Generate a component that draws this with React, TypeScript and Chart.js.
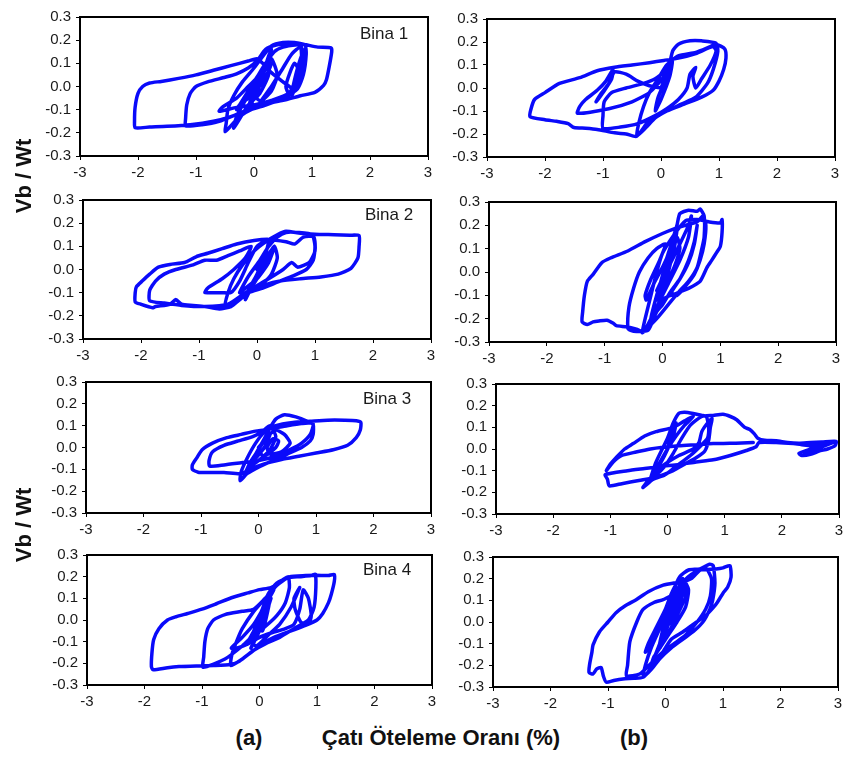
import React, { useEffect, useRef } from "react";
import { Chart, registerables } from "chart.js";

Chart.register(...registerables);

// ---------- data ----------
const xTicks = [-3, -2, -1, 0, 1, 2, 3];
const yTicks = [-0.3, -0.2, -0.1, 0, 0.1, 0.2, 0.3];
const panelLabels = ["Bina 1", "Bina 2", "Bina 3", "Bina 4"];
const yTitle = "Vb / Wt";
const xTitle = "Çatı Öteleme Oranı (%)";
const colLabels = ["(a)", "(b)"];

type P = [number, number];

const bina1A: P[] = [
  [0, 0], [0.15, 0.06], [0.3, 0.1], [0.2, 0.04], [0.0, -0.03], [-0.25, -0.08], [-0.3, -0.1], [-0.15, -0.04],
  [0.05, 0.04], [0.2, 0.1], [0.35, 0.15], [0.5, 0.17], [0.75, 0.18], [0.88, 0.18], [0.9, 0.14], [0.85, 0.05],
  [0.75, -0.01], [0.5, -0.05], [0.2, -0.08], [-0.05, -0.1], [-0.25, -0.13], [-0.4, -0.17], [-0.5, -0.195],
  [-0.48, -0.16], [-0.45, -0.1], [-0.35, -0.04], [-0.2, 0.02], [0.0, 0.08], [0.15, 0.13], [0.3, 0.175],
  [0.5, 0.19], [0.7, 0.19], [0.9, 0.18], [1.1, 0.17], [1.33, 0.167], [1.34, 0.15], [1.3, 0.09], [1.25, 0.03],
  [1.2, 0.005], [1.05, -0.025], [0.8, -0.04], [0.5, -0.06], [0.2, -0.075], [-0.1, -0.1], [-0.4, -0.13],
  [-0.7, -0.15], [-1.1, -0.165], [-1.5, -0.172], [-1.8, -0.175], [-2.05, -0.178], [-2.06, -0.15],
  [-2.05, -0.09], [-2.0, -0.03], [-1.92, 0.0], [-1.8, 0.015], [-1.6, 0.022], [-1.3, 0.035], [-1.0, 0.05],
  [-0.7, 0.07], [-0.4, 0.09], [-0.1, 0.11], [0.05, 0.12], [0.15, 0.1], [0.3, 0.06], [0.5, 0.02],
  [0.65, -0.01], [0.6, -0.04], [0.3, -0.07], [0.0, -0.09], [-0.3, -0.12], [-0.6, -0.15], [-0.9, -0.165],
  [-1.18, -0.17], [-1.18, -0.14], [-1.16, -0.08], [-1.1, -0.03], [-1.0, 0.0], [-0.8, 0.02], [-0.5, 0.04],
  [-0.3, 0.055], [-0.1, 0.08], [0.05, 0.11], [0.2, 0.16], [0.4, 0.18], [0.6, 0.185], [0.8, 0.18],
  [0.85, 0.12], [0.8, 0.05], [0.7, 0.0], [0.6, -0.03], [0.55, 0.0], [0.62, 0.06], [0.7, 0.1], [0.75, 0.08],
  [0.7, 0.02], [0.6, -0.03], [0.3, -0.06], [0.0, -0.08], [-0.3, -0.09], [-0.6, -0.107], [-0.55, -0.09],
  [-0.3, -0.05], [-0.1, 0.0], [0.1, 0.05], [0.2, 0.1], [0.25, 0.05], [0.1, -0.03], [-0.1, -0.08],
  [-0.2, -0.12], [-0.35, -0.18], [-0.3, -0.13], [-0.15, -0.06], [0.05, 0.02], [0.2, 0.08], [0.3, 0.12],
  [0.4, 0.05], [0.3, -0.02], [0.1, -0.07], [0.3, 0.0], [0.5, 0.08], [0.65, 0.14], [0.8, 0.17],
  [0.82, 0.1], [0.75, 0.02], [0.65, -0.04], [0.7, 0.03], [0.8, 0.12], [0.88, 0.16], [0.85, 0.08],
  [0.7, -0.02], [0.5, -0.05], [0.2, -0.07], [0.05, -0.05], [0.15, 0.05], [0.25, 0.13], [0.3, 0.16],
  [0.2, 0.08], [0.05, -0.02], [-0.1, -0.1], [-0.05, -0.05], [0.1, 0.04],
];

const bina1B: P[] = [
  [0, 0], [0.1, 0.06], [0.2, 0.12], [0.15, 0.05], [0.0, -0.05], [-0.1, -0.1], [-0.05, -0.04], [0.1, 0.05],
  [0.2, 0.16], [0.3, 0.19], [0.5, 0.205], [0.7, 0.205], [0.95, 0.195], [0.98, 0.16], [0.9, 0.08],
  [0.8, 0.02], [0.6, -0.04], [0.35, -0.07], [0.1, -0.1], [-0.1, -0.13], [-0.25, -0.17], [-0.42, -0.21],
  [-0.38, -0.15], [-0.3, -0.08], [-0.2, -0.02], [-0.05, 0.04], [0.1, 0.1], [0.3, 0.14], [0.6, 0.155],
  [0.85, 0.18], [0.95, 0.19], [1.1, 0.17], [1.12, 0.13], [1.08, 0.08], [1.0, 0.03], [0.9, -0.01],
  [0.7, -0.04], [0.4, -0.07], [0.1, -0.1], [-0.2, -0.14], [-0.42, -0.21], [-0.6, -0.2], [-0.8, -0.195],
  [-1.1, -0.18], [-1.3, -0.175], [-1.5, -0.172], [-1.6, -0.155], [-1.8, -0.145], [-2.0, -0.138],
  [-2.26, -0.124], [-2.24, -0.09], [-2.18, -0.05], [-2.0, -0.02], [-1.75, 0.02], [-1.4, 0.045],
  [-1.1, 0.075], [-0.8, 0.09], [-0.5, 0.1], [-0.2, 0.11], [0.05, 0.12], [0.3, 0.13], [0.6, 0.15],
  [0.9, 0.18], [0.95, 0.16], [0.85, 0.1], [0.7, 0.04], [0.6, 0.0], [0.55, 0.05], [0.6, 0.09], [0.5, 0.06],
  [0.45, 0.0], [0.3, -0.05], [0.1, -0.09], [-0.1, -0.12], [-0.4, -0.155], [-0.7, -0.17], [-1.0, -0.175],
  [-1.0, -0.12], [-0.98, -0.06], [-0.85, -0.02], [-0.6, 0.0], [-0.3, 0.02], [-0.1, 0.04], [0.1, 0.08],
  [0.15, 0.12], [0.05, 0.05], [-0.2, -0.02], [-0.5, -0.06], [-0.9, -0.09], [-1.44, -0.11], [-1.4, -0.08],
  [-1.3, -0.05], [-1.1, -0.01], [-0.95, 0.03], [-0.83, 0.08], [-0.85, 0.04], [-1.0, -0.02], [-1.12, -0.06],
  [-1.05, -0.03], [-0.9, 0.02], [-0.8, 0.07], [-0.6, 0.06], [-0.4, 0.03], [-0.2, 0.01], [0.0, 0.0],
];

const bina2A: P[] = [
  [0, 0], [0.15, 0.05], [0.3, 0.1], [0.2, 0.03], [0, -0.04], [-0.2, -0.08], [-0.3, -0.1], [-0.15, -0.03],
  [0.05, 0.04], [0.2, 0.1], [0.35, 0.14], [0.5, 0.16], [0.7, 0.16], [0.95, 0.15], [1.0, 0.1], [0.97, 0.04],
  [0.85, 0.0], [0.6, -0.03], [0.3, -0.06], [0.1, -0.08], [-0.15, -0.1], [-0.35, -0.14], [-0.55, -0.16],
  [-0.5, -0.1], [-0.4, -0.04], [-0.25, 0.02], [-0.05, 0.08], [0.15, 0.12], [0.35, 0.15], [0.5, 0.165],
  [0.75, 0.156], [1.0, 0.152], [1.33, 0.15], [1.6, 0.148], [1.76, 0.146], [1.76, 0.1], [1.74, 0.05],
  [1.62, 0.005], [1.4, -0.02], [1.1, -0.032], [0.75, -0.04], [0.4, -0.05], [0.15, -0.065], [-0.1, -0.09],
  [-0.3, -0.13], [-0.45, -0.16], [-0.65, -0.17], [-0.9, -0.16], [-1.1, -0.155], [-1.3, -0.15],
  [-1.4, -0.13], [-1.5, -0.15], [-1.75, -0.16], [-1.8, -0.165], [-2.0, -0.15], [-2.1, -0.14], [-2.1, -0.1],
  [-2.08, -0.075], [-1.98, -0.05], [-1.85, -0.02], [-1.7, 0.01], [-1.5, 0.022], [-1.25, 0.03],
  [-1.05, 0.055], [-0.85, 0.07], [-0.6, 0.09], [-0.35, 0.11], [-0.05, 0.125], [0.2, 0.13], [0.5, 0.12],
  [0.65, 0.11], [0.8, 0.14], [0.98, 0.14], [1.0, 0.08], [0.9, 0.03], [0.7, 0.01], [0.6, 0.03], [0.45, 0.0],
  [0.2, -0.04], [0.0, -0.07], [-0.2, -0.1], [-0.5, -0.15], [-0.9, -0.16], [-1.3, -0.155], [-1.6, -0.145],
  [-1.85, -0.135], [-1.85, -0.09], [-1.75, -0.05], [-1.6, -0.02], [-1.4, 0.0], [-1.1, 0.02], [-0.9, 0.04],
  [-0.7, 0.04], [-0.5, 0.06], [-0.3, 0.08], [-0.1, 0.1], [-0.2, 0.05], [-0.4, 0.0], [-0.6, -0.04],
  [-0.85, -0.08], [-0.9, -0.1], [-0.8, -0.1], [-0.6, -0.1], [-0.45, -0.1], [-0.3, -0.05], [-0.15, 0.03],
  [0.0, 0.1], [0.2, 0.13], [0.15, 0.07], [0.0, -0.02], [-0.15, -0.09], [-0.2, -0.13], [-0.1, -0.08],
  [0.05, -0.02], [0.2, 0.05], [0.3, 0.1], [0.35, 0.05], [0.25, -0.02], [0.1, -0.06], [0.0, -0.07],
];

const bina2B: P[] = [
  [0, 0], [0.1, 0.08], [0.2, 0.15], [0.15, 0.08], [0.0, -0.04], [-0.1, -0.12], [-0.05, -0.06], [0.05, 0.03],
  [0.15, 0.12], [0.25, 0.2], [0.3, 0.25], [0.45, 0.265], [0.6, 0.26], [0.65, 0.27], [0.72, 0.24],
  [0.72, 0.15], [0.68, 0.1], [0.6, 0.02], [0.45, -0.04], [0.3, -0.08], [0.1, -0.14], [-0.1, -0.2],
  [-0.3, -0.25], [-0.35, -0.26], [-0.3, -0.2], [-0.2, -0.1], [-0.1, 0.0], [0.0, 0.08], [0.2, 0.16],
  [0.4, 0.22], [0.6, 0.225], [0.8, 0.215], [1.0, 0.21], [1.03, 0.225], [1.03, 0.17], [1.0, 0.11],
  [0.94, 0.085], [0.85, 0.05], [0.77, 0.02], [0.65, -0.04], [0.45, -0.07], [0.25, -0.09], [0.05, -0.11],
  [-0.1, -0.15], [-0.2, -0.2], [-0.33, -0.255], [-0.45, -0.245], [-0.62, -0.235], [-0.8, -0.23],
  [-0.85, -0.22], [-0.96, -0.207], [-1.1, -0.21], [-1.2, -0.214], [-1.3, -0.225], [-1.39, -0.214],
  [-1.38, -0.17], [-1.35, -0.1], [-1.3, -0.04], [-1.2, -0.01], [-1.05, 0.04], [-0.9, 0.06], [-0.6, 0.09],
  [-0.3, 0.13], [0.0, 0.165], [0.2, 0.185], [0.4, 0.2], [0.6, 0.215], [0.7, 0.24], [0.75, 0.2],
  [0.72, 0.12], [0.65, 0.05], [0.55, -0.01], [0.4, -0.06], [0.25, -0.1], [0.15, -0.09], [0.3, -0.03],
  [0.45, 0.05], [0.55, 0.13], [0.6, 0.2], [0.55, 0.12], [0.45, 0.04], [0.3, -0.03], [0.15, -0.08],
  [0.0, -0.14], [-0.1, -0.17], [-0.25, -0.25], [-0.45, -0.255], [-0.55, -0.25], [-0.6, -0.24],
  [-0.58, -0.15], [-0.5, -0.07], [-0.4, 0.0], [-0.25, 0.06], [-0.1, 0.1], [0.05, 0.12], [-0.05, 0.05],
  [-0.2, -0.03], [-0.3, -0.1], [-0.28, -0.12], [-0.15, -0.05], [0.0, 0.02], [0.15, 0.1], [0.25, 0.15],
  [0.3, 0.1], [0.2, 0.02], [0.05, -0.06], [-0.05, -0.12], [0.05, -0.05], [0.15, 0.05], [0.2, 0.1],
  [0.1, 0.02], [0.3, 0.12], [0.45, 0.2], [0.5, 0.24], [0.45, 0.15], [0.3, 0.05], [0.1, -0.05],
  [-0.1, -0.15], [-0.2, -0.2], [-0.1, -0.1], [0.0, -0.02], [0.1, 0.05], [0.2, 0.12], [0.25, 0.18],
  [0.2, 0.1], [0.05, 0.0], [-0.1, -0.08], [0.0, -0.03], [0.1, 0.04],
];

const bina3A: P[] = [
  [0, 0], [0.1, 0.03], [0.2, 0.06], [0.1, 0.0], [-0.05, -0.05], [-0.15, -0.08], [-0.05, -0.03], [0.1, 0.04],
  [0.2, 0.09], [0.3, 0.13], [0.45, 0.15], [0.65, 0.14], [0.85, 0.12], [0.95, 0.105], [0.95, 0.06],
  [0.9, 0.03], [0.75, 0.0], [0.5, -0.03], [0.25, -0.06], [0.0, -0.09], [-0.2, -0.12], [-0.32, -0.152],
  [-0.3, -0.11], [-0.2, -0.05], [-0.05, 0.02], [0.1, 0.07], [0.3, 0.1], [0.6, 0.115], [0.9, 0.12],
  [1.2, 0.125], [1.5, 0.125], [1.7, 0.123], [1.78, 0.115], [1.77, 0.08], [1.7, 0.045], [1.55, 0.01],
  [1.3, -0.01], [1.0, -0.025], [0.7, -0.04], [0.4, -0.055], [0.1, -0.075], [-0.15, -0.1], [-0.3, -0.12],
  [-0.6, -0.115], [-0.9, -0.115], [-1.05, -0.113], [-1.15, -0.1], [-1.15, -0.08], [-1.08, -0.05],
  [-0.98, -0.01], [-0.8, 0.02], [-0.55, 0.045], [-0.3, 0.06], [-0.05, 0.075], [0.1, 0.08], [0.3, 0.09],
  [0.5, 0.1], [0.75, 0.11], [0.95, 0.11], [0.9, 0.06], [0.75, 0.02], [0.55, -0.01], [0.3, -0.04],
  [0.0, -0.06], [-0.3, -0.07], [-0.6, -0.08], [-0.85, -0.085], [-0.86, -0.06], [-0.8, -0.02], [-0.6, 0.01],
  [-0.35, 0.03], [-0.1, 0.05], [0.05, 0.07], [0.2, 0.1], [0.3, 0.05], [0.2, -0.01], [0.0, -0.06],
  [-0.2, -0.1], [-0.25, -0.13], [-0.15, -0.07], [0.0, -0.01], [0.15, 0.05], [0.3, 0.08], [0.45, 0.06],
  [0.55, 0.02], [0.4, -0.02], [0.2, -0.03], [0.15, 0.0], [0.25, 0.04], [0.35, 0.03], [0.3, 0.0],
  [0.1, -0.04], [0.0, -0.02],
];

const bina3B: P[] = [
  [0, 0], [0.05, 0.06], [0.15, 0.12], [0.1, 0.06], [-0.05, -0.03], [-0.2, -0.1], [-0.3, -0.14], [-0.2, -0.06],
  [0.0, 0.05], [0.1, 0.12], [0.2, 0.165], [0.3, 0.17], [0.45, 0.164], [0.6, 0.155], [0.68, 0.15],
  [0.72, 0.1], [0.7, 0.05], [0.6, 0.02], [0.4, -0.03], [0.15, -0.08], [-0.05, -0.12], [-0.25, -0.14],
  [-0.43, -0.178], [-0.35, -0.15], [-0.2, -0.12], [-0.05, -0.08], [0.1, -0.02], [0.25, 0.05], [0.4, 0.11],
  [0.6, 0.15], [0.8, 0.155], [0.97, 0.16], [1.1, 0.15], [1.21, 0.135], [1.35, 0.1], [1.44, 0.09],
  [1.52, 0.07], [1.58, 0.05], [1.7, 0.04], [1.9, 0.038], [2.1, 0.03], [2.3, 0.027], [2.5, 0.03],
  [2.7, 0.032], [2.95, 0.035], [2.93, 0.015], [2.8, 0.0], [2.65, -0.01], [2.5, -0.025], [2.35, -0.03],
  [2.3, -0.02], [2.45, -0.005], [2.6, 0.01], [2.8, 0.025], [2.9, 0.03], [2.6, 0.0], [2.4, -0.02],
  [2.55, 0.0], [2.75, 0.02], [2.9, 0.032], [2.65, 0.005], [2.45, -0.015], [2.6, 0.01], [2.85, 0.028],
  [2.7, 0.02], [2.5, 0.015], [2.35, 0.02], [2.2, 0.025], [1.9, 0.03], [1.6, 0.03], [1.55, 0.01],
  [1.38, -0.007], [1.1, -0.03], [0.8, -0.05], [0.5, -0.06], [0.2, -0.072], [-0.1, -0.08], [-0.4, -0.09],
  [-0.7, -0.1], [-1.09, -0.118], [-1.05, -0.14], [-1.02, -0.17], [-0.8, -0.16], [-0.5, -0.145],
  [-0.2, -0.13], [0.1, -0.1], [0.3, -0.07], [0.5, -0.04], [0.65, -0.01], [0.72, 0.04], [0.75, 0.1],
  [0.78, 0.14], [0.7, 0.12], [0.6, 0.08], [0.55, 0.03], [0.45, 0.0], [0.2, -0.03], [-0.1, -0.08],
  [-0.25, -0.12], [-0.15, -0.07], [0.0, 0.0], [0.15, 0.06], [0.3, 0.11], [0.45, 0.15], [0.3, 0.13],
  [0.1, 0.1], [-0.2, 0.08], [-0.4, 0.06], [-0.6, 0.025], [-0.75, 0.0], [-0.9, -0.04], [-1.0, -0.07],
  [-1.07, -0.1], [-0.95, -0.06], [-0.8, -0.03], [-0.55, -0.014], [-0.3, 0.0], [-0.08, 0.008], [0.2, 0.015],
  [0.51, 0.02], [0.8, 0.025], [1.09, 0.026], [1.3, 0.028], [1.5, 0.03],
];

const bina4A: P[] = [
  [0, 0], [0.1, 0.06], [0.2, 0.12], [0.1, 0.05], [-0.05, -0.04], [-0.2, -0.1], [-0.1, -0.05], [0.05, 0.05],
  [0.15, 0.12], [0.3, 0.17], [0.5, 0.195], [0.7, 0.2], [0.9, 0.205], [0.97, 0.21], [0.98, 0.15],
  [0.95, 0.06], [0.85, 0.0], [0.6, -0.04], [0.35, -0.08], [0.1, -0.11], [-0.1, -0.14], [-0.3, -0.18],
  [-0.5, -0.21], [-0.48, -0.16], [-0.4, -0.1], [-0.3, -0.04], [-0.1, 0.04], [0.1, 0.1], [0.3, 0.16],
  [0.52, 0.199], [0.8, 0.205], [1.0, 0.206], [1.2, 0.205], [1.3, 0.21], [1.3, 0.176], [1.25, 0.12],
  [1.2, 0.08], [1.1, 0.03], [1.0, 0.0], [0.8, -0.025], [0.55, -0.05], [0.25, -0.08], [0.05, -0.11],
  [-0.15, -0.15], [-0.35, -0.19], [-0.5, -0.205], [-0.8, -0.21], [-1.1, -0.212], [-1.4, -0.215],
  [-1.6, -0.22], [-1.85, -0.23], [-1.88, -0.215], [-1.87, -0.15], [-1.84, -0.09], [-1.75, -0.04],
  [-1.6, 0.0], [-1.45, 0.015], [-1.25, 0.03], [-1.0, 0.05], [-0.75, 0.075], [-0.46, 0.105], [-0.2, 0.125],
  [0.0, 0.14], [0.2, 0.15], [0.4, 0.185], [0.5, 0.2], [0.52, 0.15], [0.45, 0.08], [0.3, 0.02], [0.1, -0.03],
  [-0.1, -0.07], [-0.3, -0.12], [-0.6, -0.18], [-0.98, -0.218], [-0.97, -0.17], [-0.95, -0.1], [-0.9, -0.04],
  [-0.8, 0.0], [-0.6, 0.025], [-0.3, 0.04], [-0.1, 0.05], [0.1, 0.1], [0.25, 0.14], [0.1, 0.07],
  [-0.1, -0.02], [-0.3, -0.08], [-0.49, -0.129], [-0.4, -0.13], [-0.2, -0.11], [0.0, -0.08], [0.2, -0.06],
  [0.45, -0.04], [0.6, -0.02], [0.7, 0.05], [0.76, 0.139], [0.85, 0.1], [0.9, 0.02], [0.85, -0.02],
  [0.72, -0.01], [0.62, 0.05], [0.6, 0.1], [0.7, 0.15], [0.55, 0.06], [0.35, -0.02], [0.15, -0.07],
  [-0.05, -0.12], [-0.15, -0.1], [0.0, -0.03], [0.1, 0.05], [0.15, 0.12], [0.05, 0.05], [-0.05, -0.02],
  [0.05, -0.05], [0.15, 0.05], [0.2, 0.13], [0.15, 0.05], [0.0, -0.05], [-0.15, -0.13], [-0.05, -0.07],
  [0.1, 0.02], [0.2, 0.1], [0.1, 0.03], [0, 0],
];

const bina4B: P[] = [
  [0, 0], [0.1, 0.08], [0.2, 0.15], [0.12, 0.07], [0.0, -0.04], [-0.1, -0.1], [-0.05, -0.04], [0.05, 0.05],
  [0.15, 0.15], [0.25, 0.21], [0.4, 0.24], [0.6, 0.245], [0.77, 0.267], [0.83, 0.26], [0.86, 0.18],
  [0.82, 0.1], [0.77, 0.058], [0.65, 0.0], [0.5, -0.04], [0.3, -0.08], [0.1, -0.12], [-0.1, -0.17],
  [-0.25, -0.22], [-0.39, -0.255], [-0.35, -0.2], [-0.25, -0.12], [-0.1, -0.03], [0.05, 0.06], [0.2, 0.15],
  [0.4, 0.21], [0.6, 0.24], [0.88, 0.245], [1.0, 0.25], [1.12, 0.26], [1.14, 0.207], [1.08, 0.16],
  [1.0, 0.133], [0.9, 0.09], [0.83, 0.066], [0.7, 0.03], [0.54, 0.0], [0.3, -0.046], [0.1, -0.08],
  [-0.04, -0.136], [-0.2, -0.19], [-0.3, -0.23], [-0.39, -0.255], [-0.55, -0.26], [-0.74, -0.263],
  [-0.9, -0.27], [-1.03, -0.278], [-1.08, -0.25], [-1.12, -0.21], [-1.2, -0.218], [-1.26, -0.24],
  [-1.33, -0.233], [-1.32, -0.196], [-1.28, -0.14], [-1.26, -0.106], [-1.15, -0.046], [-1.0, 0.0],
  [-0.86, 0.043], [-0.7, 0.075], [-0.51, 0.103], [-0.3, 0.14], [-0.04, 0.17], [0.15, 0.18], [0.3, 0.185],
  [0.45, 0.2], [0.59, 0.237], [0.7, 0.25], [0.8, 0.2], [0.78, 0.12], [0.7, 0.06], [0.55, 0.0], [0.35, -0.06],
  [0.15, -0.1], [-0.05, -0.14], [-0.25, -0.19], [-0.45, -0.24], [-0.68, -0.248], [-0.66, -0.2],
  [-0.62, -0.091], [-0.5, 0.0], [-0.39, 0.058], [-0.2, 0.09], [-0.04, 0.103], [0.1, 0.12], [0.05, 0.06],
  [-0.1, -0.02], [-0.25, -0.1], [-0.35, -0.14], [-0.3, -0.1], [-0.15, -0.02], [0.0, 0.06], [0.1, 0.13],
  [0.2, 0.18], [0.3, 0.2], [0.4, 0.15], [0.35, 0.07], [0.2, 0.0], [0.05, -0.06], [-0.1, -0.12],
  [0.0, -0.05], [0.1, 0.03], [0.2, 0.1], [0.3, 0.16], [0.25, 0.08], [0.1, 0.0], [0.0, -0.02],
  [0.15, 0.1], [0.3, 0.2], [0.35, 0.12], [0.2, 0.03], [0.0, -0.08], [-0.2, -0.16], [-0.25, -0.2],
  [-0.1, -0.1], [0.05, 0.0], [0.2, 0.08], [0.3, 0.13], [0.15, 0.04], [0, 0],
];

// ---------- layout (style only) ----------
const FONT = "'Liberation Sans', Arial, Helvetica, sans-serif";
const LINE = "rgb(10,10,250)";
const Y_W = 50;
const X_H = 30;
const PAD_T = 10;
const PAD_R = 10;

type PanelDef = { data: P[]; rect: [number, number, number, number]; label?: string; labelPos?: [number, number] };

const panels: PanelDef[] = [
  { data: bina1A, rect: [80, 13, 428, 156], label: panelLabels[0], labelPos: [360, 25] },
  { data: bina1B, rect: [487, 15, 835, 157] },
  { data: bina2A, rect: [83, 196, 431, 339], label: panelLabels[1], labelPos: [365, 206] },
  { data: bina2B, rect: [489, 198, 836, 342] },
  { data: bina3A, rect: [86, 378, 431, 513], label: panelLabels[2], labelPos: [363, 390] },
  { data: bina3B, rect: [496, 380, 839, 514] },
  { data: bina4A, rect: [87, 551, 432, 685], label: panelLabels[3], labelPos: [363, 561] },
  { data: bina4B, rect: [493, 553, 838, 687] },
];

const framePlugin = {
  id: "frame",
  afterDatasetsDraw(chart: any) {
    const { ctx, chartArea } = chart;
    const { left, top, right, bottom } = chartArea;
    ctx.save();
    ctx.strokeStyle = "#000";
    ctx.lineWidth = 2;
    ctx.strokeRect(left, top, right - left, bottom - top);
    ctx.restore();
  },
};

function Panel({ def }: { def: PanelDef }) {
  const ref = useRef<HTMLCanvasElement | null>(null);
  const [l, t, r, b] = def.rect;
  const w = r - l + Y_W + PAD_R;
  const h = b - t + PAD_T + X_H;

  useEffect(() => {
    if (!ref.current) return;
    const chart = new Chart(ref.current, {
      type: "scatter",
      data: {
        datasets: [
          {
            data: def.data.map(([x, y]) => ({ x, y })),
            showLine: true,
            borderColor: LINE,
            backgroundColor: LINE,
            borderWidth: 3.5,
            pointRadius: 0,
            tension: 0.2,
            borderJoinStyle: "round",
            borderCapStyle: "round",
          } as any,
        ],
      },
      options: {
        animation: false,
        responsive: false,
        events: [],
        layout: { padding: { top: PAD_T, right: PAD_R, left: 0, bottom: 0 } },
        plugins: { legend: { display: false }, tooltip: { enabled: false }, title: { display: false } },
        scales: {
          x: {
            type: "linear",
            min: xTicks[0],
            max: xTicks[xTicks.length - 1],
            afterBuildTicks: (s: any) => {
              s.ticks = xTicks.map((v) => ({ value: v }));
            },
            afterFit: (s: any) => {
              s.height = X_H;
            },
            ticks: {
              callback: (v: any) => String(Math.round(Number(v))),
              font: { family: FONT, size: 15 },
              color: "#1a1a1a",
              padding: 4,
              maxRotation: 0,
              autoSkip: false,
            },
            grid: { display: true, drawOnChartArea: false, drawTicks: true, tickLength: 4, color: "#000", lineWidth: 1 },
            border: { display: true, color: "#000", width: 2 },
          },
          y: {
            type: "linear",
            min: yTicks[0],
            max: yTicks[yTicks.length - 1],
            afterBuildTicks: (s: any) => {
              s.ticks = yTicks.map((v) => ({ value: v }));
            },
            afterFit: (s: any) => {
              s.width = Y_W;
            },
            ticks: {
              callback: (v: any) => Number(v).toFixed(1),
              font: { family: FONT, size: 15 },
              color: "#1a1a1a",
              padding: 5,
              autoSkip: false,
            },
            grid: { display: true, drawOnChartArea: false, drawTicks: true, tickLength: 4, color: "#000", lineWidth: 1 },
            border: { display: true, color: "#000", width: 2 },
          },
        },
      },
      plugins: [framePlugin],
    } as any);
    return () => chart.destroy();
  }, [def]);

  return (
    <canvas
      ref={ref}
      width={w}
      height={h}
      style={{ position: "absolute", left: l - Y_W, top: t - PAD_T, width: w, height: h }}
    />
  );
}

const titleStyle: React.CSSProperties = {
  position: "absolute",
  fontFamily: FONT,
  fontWeight: "bold",
  fontSize: 22,
  lineHeight: "22px",
  color: "#111",
  whiteSpace: "nowrap",
};

export default function App() {
  return (
    <div style={{ position: "absolute", left: 0, top: 0, width: 844, height: 758, background: "#fff", overflow: "hidden" }}>
      {panels.map((p, i) => (
        <Panel key={i} def={p} />
      ))}
      {panels
        .filter((p) => p.label)
        .map((p, i) => (
          <div
            key={"lbl" + i}
            style={{
              position: "absolute",
              left: p.labelPos![0],
              top: p.labelPos![1],
              fontFamily: FONT,
              fontSize: 17,
              lineHeight: "17px",
              color: "#1a1a1a",
              whiteSpace: "nowrap",
            }}
          >
            {p.label}
          </div>
        ))}
      <div style={{ ...titleStyle, left: 24, top: 176, transform: "translate(-50%,-50%) rotate(-90deg)" }}>{yTitle}</div>
      <div style={{ ...titleStyle, left: 24, top: 525, transform: "translate(-50%,-50%) rotate(-90deg)" }}>{yTitle}</div>
      <div style={{ ...titleStyle, left: 249, top: 727, transform: "translateX(-50%)" }}>{colLabels[0]}</div>
      <div style={{ ...titleStyle, left: 441, top: 727, transform: "translateX(-50%)" }}>{xTitle}</div>
      <div style={{ ...titleStyle, left: 634, top: 727, transform: "translateX(-50%)" }}>{colLabels[1]}</div>
    </div>
  );
}
